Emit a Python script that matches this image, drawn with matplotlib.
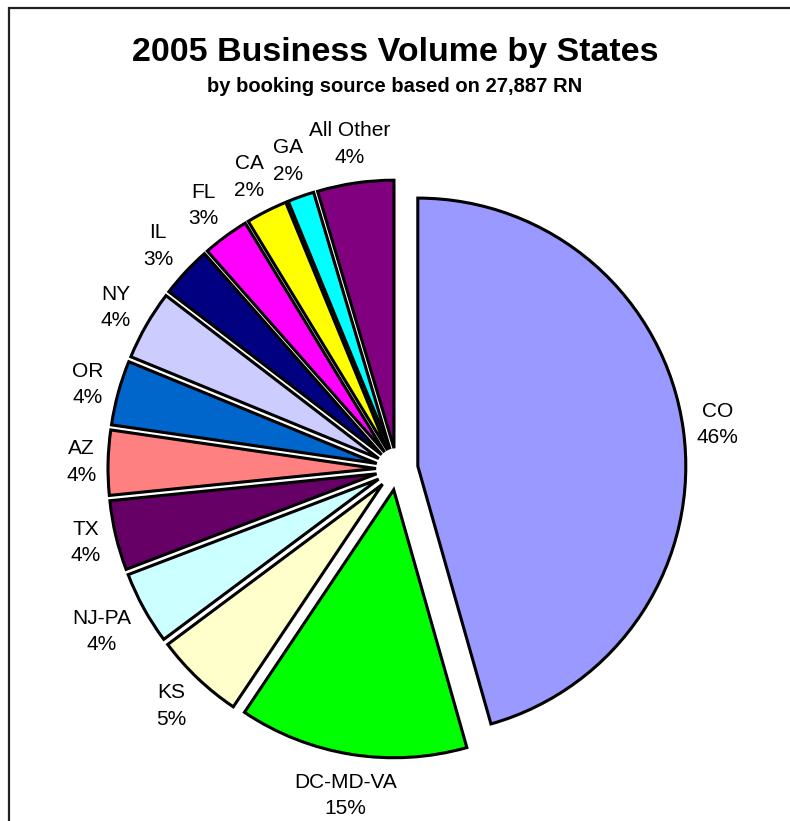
import numpy as np
import matplotlib
matplotlib.use("Agg")
import matplotlib.pyplot as plt
from matplotlib.patches import Rectangle

states = ["CO", "DC-MD-VA", "KS", "NJ-PA", "TX", "AZ", "OR", "NY",
          "IL", "FL", "CA", "GA", "All Other"]
# slice sizes (%)
shares = [45.6, 13.8, 5.4, 4.4, 4.2, 3.9, 3.9, 4.2, 3.1, 2.8, 2.5, 1.6, 4.6]
# percentages as printed on the chart
pct_text = [46, 15, 5, 4, 4, 4, 4, 4, 3, 3, 2, 2, 4]
colors = ["#9999FF", "#00FF00", "#FFFFCC", "#CCFFFF", "#660066", "#FF8080",
          "#0066CC", "#CCCCFF", "#000080", "#FF00FF", "#FFFF00", "#00FFFF",
          "#800080"]

plt.rcParams["font.family"] = ["Liberation Sans", "DejaVu Sans"]

W, H = 790, 821
fig = plt.figure(figsize=(W / 100, H / 100), dpi=100)
ax = fig.add_axes([0, 0, 1, 1])
ax.set_xlim(0, W)
ax.set_ylim(0, H)
ax.set_aspect("equal")
ax.axis("off")

# pie geometry in pixel units
cx, cy, r = 397, H - 469, 268
labels = [f"{s}\n{p}%" for s, p in zip(states, pct_text)]

wedges, texts = ax.pie(shares, labels=labels, colors=colors, startangle=90,
                       counterclock=False, center=(cx, cy), radius=r,
                       explode=[21] * len(shares), labeldistance=1.16,
                       wedgeprops=dict(edgecolor="black", linewidth=2.2),
                       textprops=dict(fontsize=15))
for t in texts:
    t.set_ha("center")
    t.set_va("center")
    t.set_multialignment("center")
    t.set_linespacing(1.5)
ax.set_xlim(0, W)
ax.set_ylim(0, H)

# excel-like label placement: label box sits just outside the arc
fig.canvas.draw()
rend = fig.canvas.get_renderer()
gap = 11
for w, t in zip(wedges, texts):
    th = np.deg2rad((w.theta1 + w.theta2) / 2)
    bb = t.get_window_extent(rend)
    hw, hh = bb.width / 2, bb.height / 2
    d = r + gap + hw * abs(np.cos(th)) + hh * abs(np.sin(th))
    x0, y0 = w.center
    t.set_position((x0 + d * np.cos(th), y0 + d * np.sin(th)))

fig.text(0.5, 1 - 52 / H, "2005 Business Volume by States", ha="center",
         va="center", fontsize=24.5, fontweight="bold")
fig.text(0.5, 1 - 87 / H, "by booking source based on 27,887 RN",
         ha="center", va="center", fontsize=14.5, fontweight="bold")

# chart border (cut off at right and bottom)
fig.patches.append(Rectangle((9 / W, -0.1), 1.2, 1.1 - 8 / H,
                             transform=fig.transFigure, fill=False,
                             edgecolor="#222222", linewidth=1.6))

fig.savefig("out.png", dpi=100)
